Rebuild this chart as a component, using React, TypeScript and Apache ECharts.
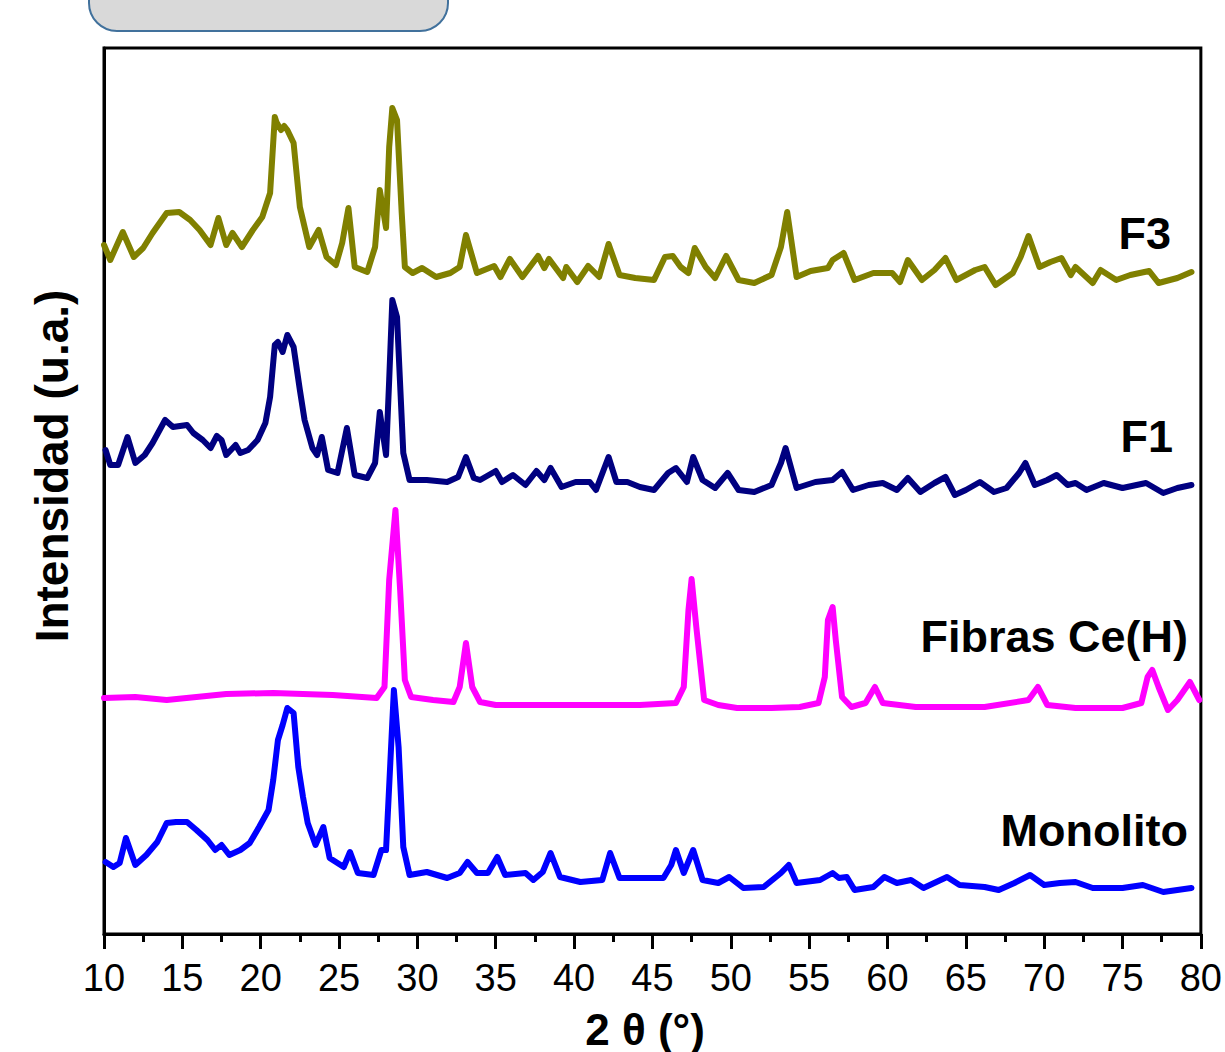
import React, { useEffect, useRef } from "react";
import * as echarts from "echarts";

// 2θ (°) vs intensity (a.u., offset traces)
const f3: [number, number][] = [
  [10.0, 689], [10.4, 674], [11.2, 702], [11.9, 677], [12.5, 686], [13.1, 701], [14.0, 721], [14.8, 722],
  [15.5, 714], [16.1, 704], [16.8, 689], [17.3, 716], [17.8, 689], [18.2, 701], [18.8, 687], [19.5, 704],
  [20.1, 717], [20.6, 741], [20.9, 817], [21.0, 812], [21.3, 804], [21.5, 808], [21.7, 804], [22.1, 791], [22.5, 727],
  [23.1, 687], [23.7, 704], [24.2, 677], [24.8, 669], [25.2, 691], [25.6, 726], [26.0, 667], [26.8, 662],
  [27.3, 687], [27.6, 744], [28.0, 706], [28.2, 787], [28.4, 826], [28.7, 814], [29.0, 721], [29.2, 667],
  [29.7, 661], [30.3, 666], [31.2, 657], [32.1, 661], [32.7, 667], [33.1, 699], [33.8, 661], [34.9, 668],
  [35.3, 657], [35.9, 675], [36.7, 657], [37.7, 678], [38.1, 666], [38.4, 675], [39.3, 656], [39.5, 667],
  [40.2, 652], [40.9, 668], [41.6, 657], [42.2, 690], [42.9, 659], [43.9, 656], [45.1, 654], [45.8, 677],
  [46.3, 678], [46.8, 667], [47.3, 661], [47.7, 686], [48.4, 667], [49.0, 656], [49.7, 678], [50.5, 654],
  [51.5, 651], [52.6, 659], [53.2, 687], [53.6, 722], [54.2, 657], [55.1, 663], [56.2, 666], [56.5, 674],
  [57.2, 681], [57.9, 654], [59.1, 661], [60.3, 661], [60.8, 652], [61.3, 674], [62.2, 654], [63.0, 664],
  [63.7, 676], [64.4, 654], [65.6, 664], [66.2, 667], [66.9, 649], [68.0, 661], [68.5, 677], [69.0, 698],
  [69.7, 667], [70.4, 672], [71.1, 676], [71.7, 659], [72.0, 667], [73.1, 651], [73.6, 664], [74.6, 654],
  [75.5, 659], [76.7, 663], [77.3, 651], [78.5, 656], [79.4, 662],
];

const f1: [number, number][] = [
  [10.1, 484], [10.4, 469], [10.9, 469], [11.5, 497], [12.0, 471], [12.6, 479], [13.1, 491], [13.9, 514],
  [14.4, 507], [15.3, 509], [15.7, 501], [16.3, 494], [16.8, 486], [17.2, 498], [17.5, 494], [17.8, 479],
  [18.4, 489], [18.7, 481], [19.2, 484], [19.8, 494], [20.3, 511], [20.6, 537], [20.9, 589], [21.1, 592],
  [21.4, 582], [21.7, 599], [22.1, 587], [22.5, 544], [22.8, 514], [23.3, 486], [23.6, 479], [23.9, 497],
  [24.3, 464], [24.9, 461], [25.5, 506], [26.0, 459], [26.8, 456], [27.3, 471], [27.6, 522], [28.0, 479],
  [28.2, 554], [28.4, 634], [28.7, 617], [29.1, 481], [29.5, 454], [30.6, 454], [31.9, 452], [32.6, 457],
  [33.1, 477], [33.6, 456], [34.0, 454], [35.0, 463], [35.4, 452], [36.1, 459], [36.9, 449], [37.6, 463],
  [38.1, 454], [38.5, 466], [39.2, 447], [40.1, 452], [41.0, 452], [41.4, 444], [42.2, 477], [42.7, 452],
  [43.4, 452], [44.2, 447], [45.1, 444], [46.0, 461], [46.5, 466], [47.2, 452], [47.6, 477], [48.2, 454],
  [49.0, 446], [49.8, 461], [50.5, 444], [51.5, 442], [52.6, 449], [53.2, 471], [53.5, 486], [54.2, 446],
  [55.4, 452], [56.5, 454], [57.1, 462], [57.8, 444], [58.8, 449], [59.7, 451], [60.6, 444], [61.3, 456],
  [62.1, 442], [63.0, 451], [63.7, 457], [64.3, 439], [65.0, 444], [65.9, 452], [66.8, 442], [67.6, 446],
  [68.4, 461], [68.8, 471], [69.4, 449], [70.2, 454], [70.8, 459], [71.5, 449], [72.0, 451], [72.7, 444],
  [73.8, 451], [75.0, 446], [76.5, 451], [77.6, 441], [78.5, 446], [79.4, 449],
];

const fibras: [number, number][] = [
  [10.0, 236], [12.0, 237], [14.0, 234], [17.8, 240], [20.8, 241], [24.6, 239], [27.4, 236], [27.9, 247],
  [28.2, 354], [28.6, 424], [28.9, 344], [29.2, 254], [29.6, 237], [31.0, 234], [32.3, 232], [32.7, 247],
  [33.1, 291], [33.5, 247], [34.0, 232], [35.0, 229], [38.4, 229], [44.2, 229], [46.5, 231], [47.0, 247],
  [47.3, 324], [47.5, 355], [47.8, 307], [48.3, 234], [49.2, 229], [50.4, 226], [52.6, 226], [54.4, 227],
  [55.6, 231], [56.0, 257], [56.2, 314], [56.5, 327], [56.7, 294], [57.1, 237], [57.7, 227], [58.6, 231],
  [59.2, 247], [59.7, 231], [61.8, 227], [66.2, 227], [69.0, 234], [69.6, 247], [70.2, 229], [72.0, 226],
  [75.0, 226], [76.2, 231], [76.6, 257], [76.9, 264], [77.3, 247], [77.9, 224], [78.5, 234], [79.3, 252],
  [79.9, 234],
];

const monolito: [number, number][] = [
  [10.1, 72], [10.6, 67], [11.0, 71], [11.4, 96], [12.0, 69], [12.7, 79], [13.4, 92], [14.0, 111],
  [14.6, 112], [15.3, 112], [15.9, 104], [16.6, 94], [17.1, 84], [17.5, 89], [18.0, 79], [18.7, 84],
  [19.3, 91], [19.9, 107], [20.5, 124], [20.8, 154], [21.1, 194], [21.4, 209], [21.7, 226], [22.1, 221],
  [22.4, 167], [22.7, 137], [23.0, 111], [23.5, 89], [24.0, 107], [24.4, 76], [25.3, 67], [25.7, 82],
  [26.2, 61], [27.2, 59], [27.7, 84], [28.0, 84], [28.5, 244], [28.8, 187], [29.1, 87], [29.5, 59],
  [30.6, 62], [31.9, 56], [32.7, 61], [33.2, 72], [33.8, 61], [34.5, 61], [35.1, 77], [35.6, 59],
  [36.9, 61], [37.4, 54], [38.0, 62], [38.5, 81], [39.1, 57], [40.4, 52], [41.8, 54], [42.3, 81],
  [42.9, 56], [44.2, 56], [45.7, 56], [46.2, 69], [46.5, 84], [47.0, 61], [47.6, 84], [48.2, 54],
  [49.2, 51], [49.9, 57], [50.8, 46], [52.1, 47], [53.2, 61], [53.7, 69], [54.2, 51], [55.7, 54],
  [56.5, 61], [56.9, 56], [57.4, 57], [57.9, 44], [59.1, 47], [59.8, 57], [60.6, 51], [61.5, 54],
  [62.3, 46], [63.8, 57], [64.6, 49], [66.2, 47], [67.1, 44], [68.1, 51], [69.1, 59], [70.0, 49],
  [71.0, 51], [72.0, 52], [73.1, 46], [75.0, 46], [76.3, 49], [77.6, 42], [79.4, 46],
];

const seriesNames = ["F3", "F1", "Fibras Ce(H)", "Monolito"];
const seriesColors = ["#808000", "#000080", "#ff00ff", "#0000ff"];
const xTicks = { min: 10, max: 80, interval: 5 };
const yRange = { min: 0, max: 886 };

const FONT = "'Liberation Sans', Arial, Helvetica, sans-serif";

export default function App() {
  const ref = useRef<HTMLDivElement>(null);
  useEffect(() => {
    if (!ref.current) return;
    const chart = echarts.init(ref.current, undefined, { renderer: "svg" });
    const datasets = [f3, f1, fibras, monolito];
    const labelPos = [
      { x: 1171, y: 233 },
      { x: 1173, y: 436 },
      { x: 1188, y: 636 },
      { x: 1188, y: 830 },
    ];
    chart.setOption({
      animation: false,
      backgroundColor: "#ffffff",
      grid: {
        left: 104,
        top: 48,
        width: 1098,
        height: 886,
        show: true,
        borderColor: "#000",
        borderWidth: 3,
        backgroundColor: "transparent",
      },
      xAxis: {
        type: "value",
        min: xTicks.min,
        max: xTicks.max,
        interval: xTicks.interval,
        axisLine: { show: true, lineStyle: { color: "#000", width: 3 } },
        axisTick: { show: true, inside: false, length: 15, lineStyle: { color: "#000", width: 3 } },
        minorTick: { show: true, splitNumber: 2, length: 8, lineStyle: { color: "#000", width: 3 } },
        axisLabel: { color: "#000", fontSize: 38, fontFamily: FONT, margin: 25 },
        splitLine: { show: false },
      },
      yAxis: {
        type: "value",
        min: yRange.min,
        max: yRange.max,
        axisLine: { show: true, lineStyle: { color: "#000", width: 3 } },
        axisTick: { show: false },
        axisLabel: { show: false },
        splitLine: { show: false },
      },
      series: datasets.map((d, i) => ({
        name: seriesNames[i],
        type: "line",
        data: d,
        showSymbol: false,
        symbol: "none",
        lineStyle: { color: seriesColors[i], width: 6, join: "round", cap: "round" },
        z: 2 + i,
      })),
      graphic: [
        {
          type: "rect",
          shape: { x: 89, y: -40, width: 359, height: 71, r: 28 },
          style: { fill: "#d9d9d9", stroke: "#41719c", lineWidth: 2 },
        },
        {
          type: "text",
          x: 52,
          y: 466,
          rotation: Math.PI / 2,
          style: {
            text: "Intensidad (u.a.)",
            fontSize: 46,
            fontWeight: "bold",
            fontFamily: FONT,
            fill: "#000",
            align: "center",
            verticalAlign: "middle",
          },
        },
        {
          type: "text",
          x: 645,
          y: 1051,
          style: {
            text: "2 θ (°)",
            fontSize: 44,
            fontWeight: "bold",
            fontFamily: FONT,
            fill: "#000",
            align: "center",
            verticalAlign: "bottom",
          },
        },
        ...seriesNames.map((n, i) => ({
          type: "text",
          x: labelPos[i].x,
          y: labelPos[i].y,
          style: {
            text: n,
            fontSize: 45,
            fontWeight: "bold",
            fontFamily: FONT,
            fill: "#000",
            align: "right",
            verticalAlign: "middle",
          },
        })),
      ],
    });
    return () => chart.dispose();
  }, []);
  return (
    <div
      ref={ref}
      style={{ position: "absolute", left: 0, top: 0, width: 1225, height: 1052 }}
    />
  );
}
